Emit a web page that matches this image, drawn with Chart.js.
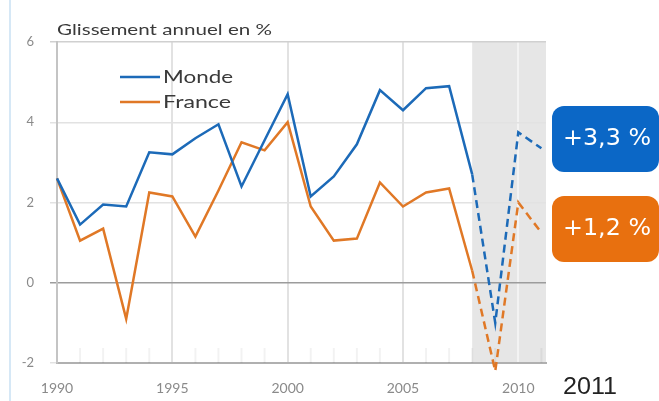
<!DOCTYPE html>
<html>
<head>
<meta charset="utf-8">
<script src="https://cdn.jsdelivr.net/npm/chart.js@4"></script>
<style>
  html, body { margin: 0; padding: 0; background: #fff; }
  #wrap { width: 659px; height: 401px; }
</style>
</head>
<body>
<div id="wrap"><canvas id="growthChart" width="659" height="401"></canvas></div>
<script>
const years = [1990, 1991, 1992, 1993, 1994, 1995, 1996, 1997, 1998, 1999, 2000,
  2001, 2002, 2003, 2004, 2005, 2006, 2007, 2008, 2009, 2010, 2011];
const monde = [2.6, 1.45, 1.95, 1.9, 3.25, 3.2, 3.6, 3.95, 2.4, 3.55, 4.7,
  2.15, 2.65, 3.45, 4.8, 4.3, 4.85, 4.9, 2.7, -1.0, 3.75, 3.35];
const france = [2.6, 1.05, 1.35, -0.9, 2.25, 2.15, 1.15, 2.3, 3.5, 3.3, 4.0,
  1.9, 1.05, 1.1, 2.5, 1.9, 2.25, 2.35, 0.3, -2.2, 2.0, 1.25];
const seriesNames = ['Monde', 'France'];
const badgeLabels = ['+3,3 %', '+1,2 %'];
const xTicks = [1990, 1995, 2000, 2005, 2010];
const yTicks = [-2, 0, 2, 4, 6];
const forecastFrom = 2008;
const lastYearLabel = '2011';

const blue = '#1c6ab8';
const orange = '#e07826';
const dashIdx = years.indexOf(forecastFrom);

const toPoints = arr => arr.map((v, i) => ({ x: years[i], y: v }));

// text squeezed/stretched to a given width (the source art is wide)
function wideText(c, txt, x, y, w, font, align) {
  c.save();
  c.font = font;
  const sx = w / c.measureText(txt).width;
  c.textBaseline = 'middle';
  c.textAlign = 'left';
  let left = x;
  if (align === 'center') left = x - w / 2;
  c.translate(left, y);
  c.scale(sx, 1);
  c.fillText(txt, 0, 0);
  c.restore();
}

const backdrop = {
  id: 'backdrop',
  beforeDraw(chart) {
    const c = chart.ctx, a = chart.chartArea, x = chart.scales.x;
    c.save();
    c.fillStyle = '#e6e6e6';
    const x0 = x.getPixelForValue(forecastFrom);
    c.fillRect(x0, a.top, a.right - x0, a.bottom - a.top);
    c.fillStyle = '#d6e8f6';
    c.fillRect(9, 0, 2, chart.height);
    c.restore();
  },
  beforeDatasetsDraw(chart) {
    // small yearly marks along the bottom
    const c = chart.ctx, a = chart.chartArea, x = chart.scales.x;
    c.save();
    c.strokeStyle = 'rgba(0,0,0,0.05)';
    c.lineWidth = 2;
    years.forEach(y => {
      if (xTicks.includes(y)) return;
      const px = x.getPixelForValue(y);
      c.beginPath();
      c.moveTo(px, a.bottom - 15);
      c.lineTo(px, a.bottom);
      c.stroke();
    });
    c.restore();
  },
  afterDraw(chart) {
    const c = chart.ctx;
    c.save();
    c.fillStyle = '#3a3a3a';
    wideText(c, 'Glissement annuel en %', 57, 30, 215, '16px Lato');

    // legend
    const cols = [blue, orange];
    seriesNames.forEach((name, i) => {
      const y = 77 + i * 25;
      c.strokeStyle = cols[i];
      c.lineWidth = 2.5;
      c.beginPath();
      c.moveTo(120, y);
      c.lineTo(160, y);
      c.stroke();
      c.fillStyle = '#3a3a3a';
      wideText(c, name, 163, y, name === 'Monde' ? 70 : 68, '18px Lato');
    });

    // badges
    const badgeCols = ['#0b67c6', '#e8700f'];
    const tops = [106, 196];
    badgeLabels.forEach((t, i) => {
      c.fillStyle = badgeCols[i];
      c.beginPath();
      c.roundRect(552, tops[i], 107, 66, 12);
      c.fill();
      c.fillStyle = '#fff';
      wideText(c, t, 607, tops[i] + 33, 88, '23px "DejaVu Sans"', 'center');
    });

    // last year label
    c.fillStyle = '#222';
    wideText(c, lastYearLabel, 590, 388, 54, '23px "Liberation Sans"', 'center');
    c.restore();
  }
};

const segDash = ctx => ctx.p0DataIndex >= dashIdx ? [8, 5] : undefined;

new Chart(document.getElementById('growthChart'), {
  type: 'line',
  data: {
    datasets: [
      {
        label: seriesNames[0],
        data: toPoints(monde),
        borderColor: blue,
        borderWidth: 2.5,
        pointRadius: 0,
        clip: false,
        segment: { borderDash: segDash }
      },
      {
        label: seriesNames[1],
        data: toPoints(france),
        borderColor: orange,
        borderWidth: 2.5,
        pointRadius: 0,
        clip: false,
        segment: { borderDash: segDash }
      }
    ]
  },
  options: {
    responsive: false,
    animation: false,
    layout: { padding: { top: 42, right: 113, left: 0, bottom: 0 } },
    plugins: {
      legend: { display: false },
      tooltip: { enabled: false }
    },
    scales: {
      x: {
        type: 'linear',
        min: 1990,
        max: 2011.2,
        afterBuildTicks: s => { s.ticks = xTicks.map(v => ({ value: v })); },
        afterFit: s => { s.height = 38; },
        ticks: {
          callback: v => String(v),
          color: '#8a8a8a',
          font: { size: 14, family: 'Lato' },
          padding: 17,
          maxRotation: 0
        },
        grid: {
          drawTicks: false,
          color: c => c.tick && c.tick.value === 1990 ? 'rgba(0,0,0,0)' :
            (c.tick && c.tick.value === 2010 ? '#f3f3f3' : '#e2e2e2'),
          lineWidth: 2
        },
        border: { color: '#b0b0b0', width: 2 }
      },
      y: {
        min: -2,
        max: 6,
        afterBuildTicks: s => { s.ticks = yTicks.map(v => ({ value: v })); },
        afterFit: s => { s.width = 57; },
        ticks: {
          color: '#8a8a8a',
          font: { size: 13, family: 'Lato' },
          padding: 16
        },
        grid: {
          drawTicks: true,
          tickLength: 7,
          color: c => c.tick && c.tick.value === 0 ? '#9c9c9c' :
            (c.tick && c.tick.value === 6 ? '#d0d0d0' : '#e2e2e2'),
          lineWidth: 1.5
        },
        border: { color: '#c4c4c4', width: 2 }
      }
    }
  },
  plugins: [backdrop]
});
</script>
</body>
</html>
